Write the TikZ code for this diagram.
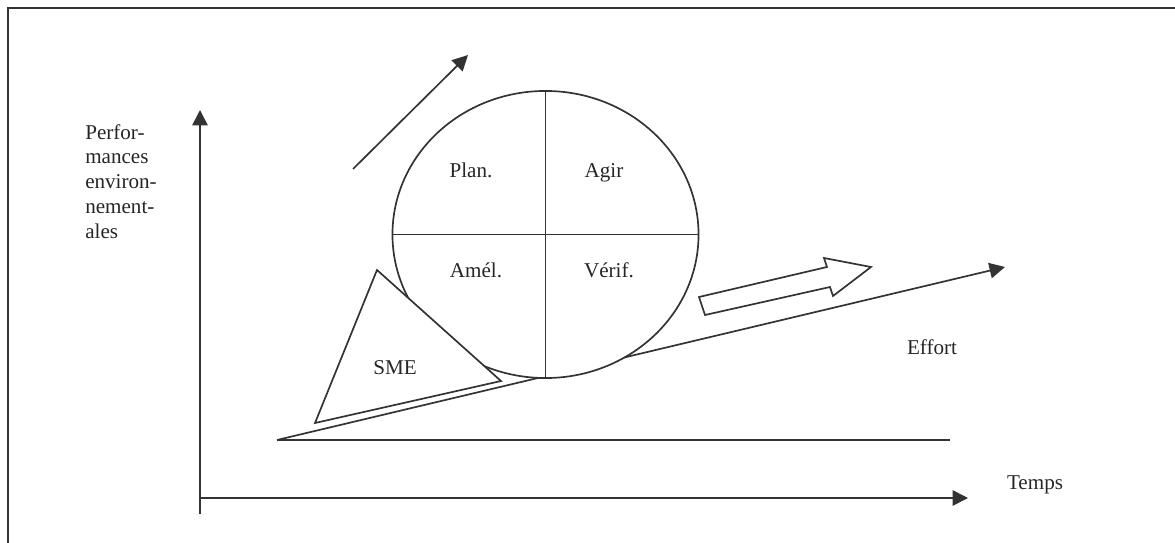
\documentclass[tikz,border=0pt]{standalone}
\usepackage{fontspec}
\setmainfont{Liberation Serif}
\usetikzlibrary{arrows.meta,shapes.geometric}

\tikzset{
  trait/.style={line width=1.2pt, draw=black!80},
  fleche/.style={trait, -{Triangle[length=11pt,width=11pt]}, black!80},
  lbl/.style={inner sep=0pt, font=\fontsize{15}{17.6}\selectfont, text=black!85}
}

\begin{document}
\begin{tikzpicture}[x=0.025cm,y=-0.025cm]
\useasboundingbox (0,0) rectangle (1175,543);
% Cadre
\draw[trait] (8,543) -- (8,8) -- (1175,8);

% Axes
\coordinate (bas) at (200,514);
\coordinate (haut) at (200,110);
\coordinate (gauche) at (200,498);
\coordinate (droite) at (968,498);
\draw[fleche] (bas) -- (haut);
\draw[fleche] (gauche) -- (droite);
\node[lbl, anchor=north west, align=left] (perf) at (85,124) {Perfor-\\mances\\environ-\\nement-\\ales};
\node[lbl, anchor=base] (temps) at (1035,489) {Temps};

% Plan incline
\coordinate (pied) at (277,440);
\coordinate (sol) at (950,440);
\coordinate (pente) at (1005,267);
\draw[trait] (pied) -- (sol);
\draw[fleche] (pied) -- (pente);
\node[lbl, anchor=base] (effort) at (932,355) {Effort};

% Roue (cache la pente)
\node[trait, fill=white, ellipse, minimum width=7.65cm, minimum height=7.175cm, inner sep=0pt] (roue) at (545.5,234.5) {};
\draw[trait] (roue.north) -- (roue.south);
\draw[trait] (roue.west) -- (roue.east);
\foreach \nom/\x/\y/\txt in {plan/471/178/Plan., agir/604/178/Agir, amel/476/278/Amél., verif/609/278/Vérif.} {
    \node[lbl, anchor=base] (\nom) at (\x,\y) {\txt};
}

% Cale SME (devant la roue)
\coordinate (cale1) at (377,270);
\coordinate (cale2) at (315,423);
\coordinate (cale3) at (501,381);
\draw[trait, fill=white, line join=miter] (cale1) -- (cale2) -- (cale3) -- cycle;
\node[lbl, anchor=base] (sme) at (395,374) {SME};

% Progression
\coordinate (depart) at (353,169);
\coordinate (arrivee) at (468,55);
\draw[fleche] (depart) -- (arrivee);
\draw[trait] (699,297) -- (705,315) -- (830,287) -- (833,296) -- (871,267) -- (824,258) -- (827,267) -- cycle;

\end{tikzpicture}
\end{document}
